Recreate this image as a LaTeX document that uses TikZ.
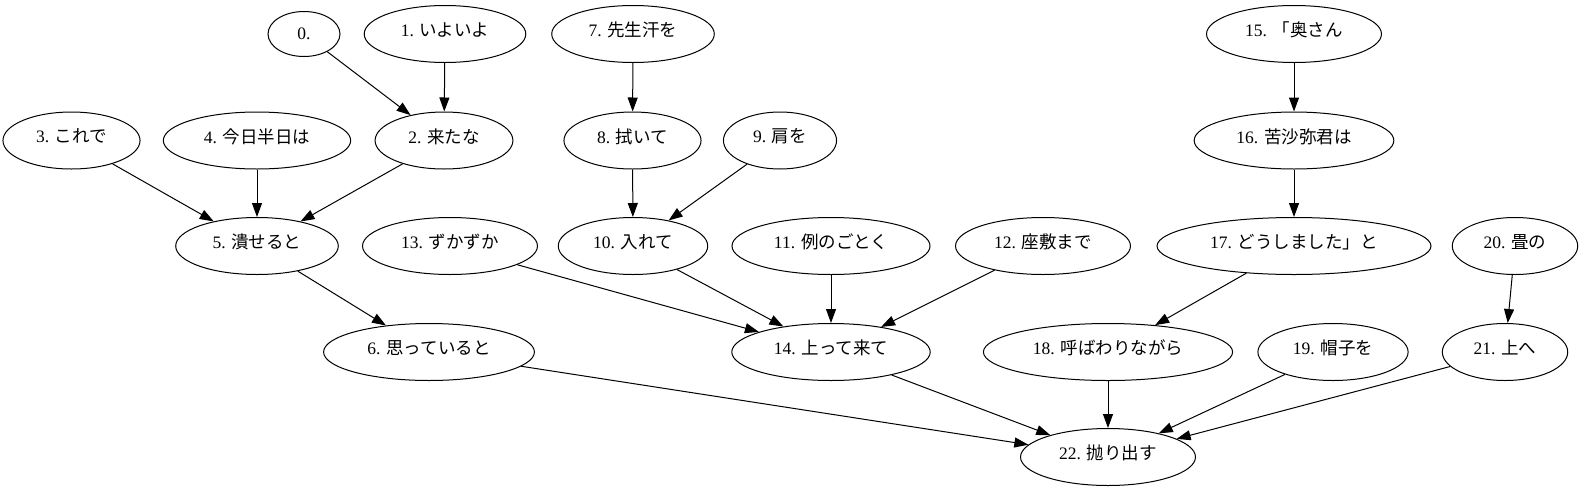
\documentclass[tikz,border=0pt]{standalone}
\usepackage{fontspec}
\setmainfont{Liberation Serif}
\newfontfamily\jp{Noto Sans CJK JP}
\usetikzlibrary{arrows.meta,shapes.geometric}
\tikzset{
	word/.style={draw, ellipse, line width=1pt, inner xsep=13pt, inner ysep=0pt, minimum width=72pt, minimum height=57pt, text depth=9pt, font=\fontsize{17.5}{20}\selectfont},
	dep/.style={line width=1pt, -{Triangle[length=14pt,width=10pt]}}
}

\begin{document}
\begin{tikzpicture}[x=1pt,y=-1pt]
		%%%%% START %%%%%
		\useasboundingbox (0,0) rectangle (1587,493);
		
		\node[word, minimum height=45pt, text depth=0pt] (w0) at (304,34) {0.};
		\node[word] (w1) at (445,34) {1. {\jp いよいよ}};
		\node[word] (w7) at (633,34) {7. {\jp 先生汗を}};
		\node[word] (w15) at (1294,34) {15. {\jp 「奥さん}};
		
		\node[word] (w3) at (71.5,140.5) {3. {\jp これで}};
		\node[word] (w4) at (257,140.5) {4. {\jp 今日半日は}};
		\node[word] (w2) at (444,140.5) {2. {\jp 来たな}};
		\node[word] (w8) at (632.5,140.5) {8. {\jp 拭いて}};
		\node[word] (w9) at (780,140.5) {9. {\jp 肩を}};
		\node[word] (w16) at (1294,140.5) {16. {\jp 苦沙弥君は}};
		
		\node[word] (w5) at (257,246) {5. {\jp 潰せると}};
		\node[word] (w13) at (450,246) {13. {\jp ずかずか}};
		\node[word] (w10) at (633,246) {10. {\jp 入れて}};
		\node[word] (w11) at (831,246) {11. {\jp 例のごとく}};
		\node[word] (w12) at (1043,246) {12. {\jp 座敷まで}};
		\node[word] (w17) at (1294,246) {17. {\jp どうしました」と}};
		\node[word] (w20) at (1515,246) {20. {\jp 畳の}};
		
		\node[word] (w6) at (429,352) {6. {\jp 思っていると}};
		\node[word] (w14) at (831,352) {14. {\jp 上って来て}};
		\node[word] (w18) at (1108,352) {18. {\jp 呼ばわりながら}};
		\node[word] (w19) at (1333,352) {19. {\jp 帽子を}};
		\node[word] (w21) at (1505,352) {21. {\jp 上へ}};
		
		\node[word] (w22) at (1108,457) {22. {\jp 抛り出す}};
		
		\draw[dep] (w0) -- (w2);
		\draw[dep] (w1) -- (w2);
		\draw[dep] (w2) -- (w5);
		\draw[dep] (w3) -- (w5);
		\draw[dep] (w4) -- (w5);
		\draw[dep] (w5) -- (w6);
		\draw[dep] (w6) -- (w22);
		\draw[dep] (w7) -- (w8);
		\draw[dep] (w8) -- (w10);
		\draw[dep] (w9) -- (w10);
		\draw[dep] (w10) -- (w14);
		\draw[dep] (w11) -- (w14);
		\draw[dep] (w12) -- (w14);
		\draw[dep] (w13) -- (w14);
		\draw[dep] (w14) -- (w22);
		\draw[dep] (w15) -- (w16);
		\draw[dep] (w16) -- (w17);
		\draw[dep] (w17) -- (w18);
		\draw[dep] (w18) -- (w22);
		\draw[dep] (w19) -- (w22);
		\draw[dep] (w20) -- (w21);
		\draw[dep] (w21) -- (w22);
		%%%%% END %%%%%
	\end{tikzpicture}
\end{document}
